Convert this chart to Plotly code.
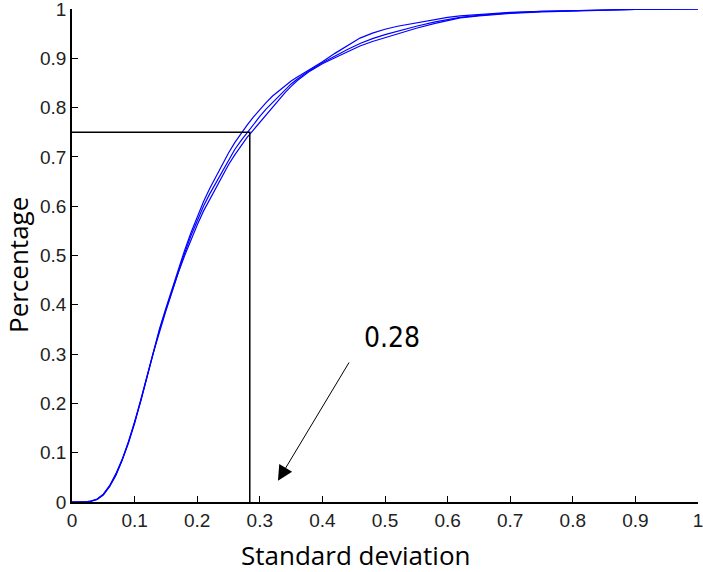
import plotly.graph_objects as go

# Standard deviation grid (x) and cumulative percentage for three runs
x_vals = [0, 0.02, 0.03, 0.04, 0.05, 0.06, 0.07, 0.08, 0.09, 0.10, 0.11, 0.12, 0.13,
          0.14, 0.15, 0.16, 0.17, 0.18, 0.19, 0.20, 0.21, 0.22, 0.23, 0.24, 0.25,
          0.26, 0.27, 0.28, 0.29, 0.30, 0.31, 0.32, 0.33, 0.34, 0.35, 0.36, 0.38,
          0.40, 0.42, 0.44, 0.46, 0.48, 0.50, 0.52, 0.55, 0.58, 0.60, 0.62, 0.65,
          0.70, 0.75, 0.80, 0.85, 0.90, 0.95, 1.0]

run_a = [0, 0, 0.002, 0.006, 0.016, 0.033, 0.057, 0.086, 0.122, 0.162, 0.208, 0.258,
         0.308, 0.352, 0.393, 0.434, 0.474, 0.511, 0.546, 0.578, 0.609, 0.636, 0.660,
         0.685, 0.708, 0.729, 0.748, 0.765, 0.781, 0.796, 0.810, 0.823, 0.834, 0.845,
         0.854, 0.862, 0.877, 0.893, 0.910, 0.926, 0.941, 0.951, 0.959, 0.965, 0.972,
         0.979, 0.983, 0.986, 0.989, 0.993, 0.995, 0.997, 0.998, 0.999, 1.0, 1.0]

run_b = [0, 0, 0.002, 0.005, 0.015, 0.032, 0.055, 0.085, 0.120, 0.160, 0.205, 0.255,
         0.305, 0.350, 0.390, 0.430, 0.470, 0.505, 0.540, 0.570, 0.600, 0.625, 0.648,
         0.672, 0.695, 0.715, 0.733, 0.750, 0.767, 0.782, 0.797, 0.810, 0.823, 0.836,
         0.848, 0.858, 0.876, 0.891, 0.905, 0.918, 0.930, 0.940, 0.948, 0.955, 0.965,
         0.974, 0.979, 0.983, 0.987, 0.992, 0.995, 0.997, 0.998, 0.999, 1.0, 1.0]

run_c = [0, 0, 0.001, 0.005, 0.014, 0.031, 0.054, 0.084, 0.119, 0.159, 0.204, 0.254,
         0.303, 0.348, 0.388, 0.427, 0.466, 0.500, 0.533, 0.562, 0.590, 0.614, 0.637,
         0.661, 0.684, 0.704, 0.723, 0.740, 0.755, 0.770, 0.786, 0.801, 0.816, 0.830,
         0.843, 0.855, 0.874, 0.889, 0.901, 0.913, 0.925, 0.934, 0.942, 0.950, 0.961,
         0.971, 0.977, 0.982, 0.986, 0.991, 0.994, 0.996, 0.998, 0.999, 1.0, 1.0]

tick_vals = [0, 0.1, 0.2, 0.3, 0.4, 0.5, 0.6, 0.7, 0.8, 0.9, 1]
tick_text = ["0", "0.1", "0.2", "0.3", "0.4", "0.5", "0.6", "0.7", "0.8", "0.9", "1"]

marker_x = 0.284
marker_y = 0.75
arrow_head = (0.329, 0.043)
arrow_tail = (0.444, 0.286)
label_pos = (0.511, 0.333)

W, H = 703, 572
L, R, T, B = 72, 5, 9, 70
PW, PH = W - L - R, H - T - B


def page_to_paper(px, py):
    return (px - L) / PW, (H - B - py) / PH


fig = go.Figure()
for run in (run_a, run_b, run_c):
    fig.add_trace(go.Scatter(x=x_vals, y=run, mode="lines",
                             line=dict(color="#0000ff", width=1.2),
                             showlegend=False, hoverinfo="skip"))

fig.add_trace(go.Scatter(x=[0, marker_x, marker_x], y=[marker_y, marker_y, 0],
                         mode="lines", line=dict(color="black", width=1.5),
                         showlegend=False, hoverinfo="skip"))

axis_common = dict(range=[0, 1], tickvals=tick_vals, ticktext=tick_text,
                   ticks="inside", ticklen=6, tickcolor="black", tickwidth=1.3,
                   showline=True, linecolor="black", linewidth=1.5,
                   showgrid=False, zeroline=False, automargin=False,
                   ticklabeloverflow="allow",
                   tickfont=dict(family="Liberation Sans, Arial", size=19, color="#222"))

xt = page_to_paper(355, 555)
yt = page_to_paper(18, 265)

fig.update_layout(
    width=W, height=H,
    margin=dict(l=L, r=R, t=T, b=B, autoexpand=False),
    paper_bgcolor="white", plot_bgcolor="white",
    xaxis=dict(**axis_common),
    yaxis=dict(**axis_common),
    annotations=[
        dict(x=arrow_head[0], y=arrow_head[1], ax=arrow_tail[0], ay=arrow_tail[1],
             xref="x", yref="y", axref="x", ayref="y", text="",
             showarrow=True, arrowhead=2, arrowsize=3, arrowwidth=1, arrowcolor="black"),
        dict(x=label_pos[0], y=label_pos[1], xref="x", yref="y", text="0.28",
             showarrow=False, xanchor="center", yanchor="middle",
             font=dict(family="Liberation Sans Narrow, DejaVu Sans Condensed", size=28, color="black")),
        dict(x=xt[0], y=xt[1], xref="paper", yref="paper", text="Standard deviation",
             showarrow=False, xanchor="center", yanchor="middle",
             font=dict(family="Open Sans", size=26, color="black")),
        dict(x=yt[0], y=yt[1], xref="paper", yref="paper", text="Percentage",
             textangle=-90, showarrow=False, xanchor="center", yanchor="middle",
             font=dict(family="Open Sans", size=26, color="black")),
    ],
)

fig.write_html("out.html", config={"displayModeBar": False},
               post_script="document.body.style.margin='0';document.body.style.padding='0';")
